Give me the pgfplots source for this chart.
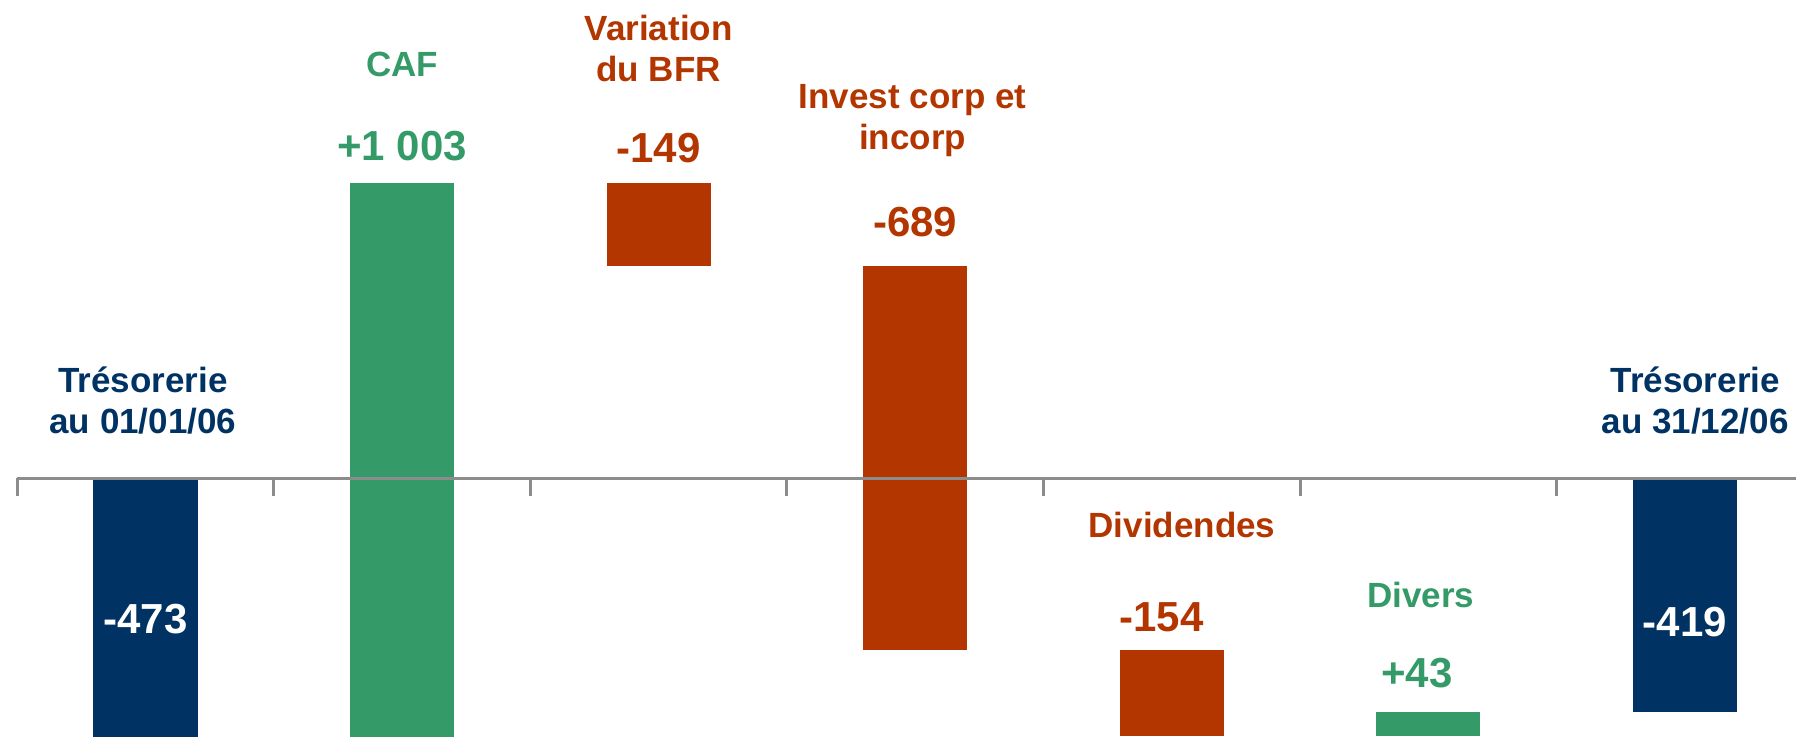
\documentclass[border=0pt]{standalone}
\usepackage{pgfplots}
\pgfplotsset{compat=1.18}
\usepackage{fontspec}
\setmainfont{Liberation Sans}
\definecolor{navy}{RGB}{0,51,99}
\definecolor{cafgreen}{RGB}{52,155,104}
\definecolor{rust}{RGB}{179,53,0}
\definecolor{axgray}{RGB}{140,140,140}
\newcommand{\numfont}{\bfseries\fontsize{10.5}{12}\selectfont}
\newcommand{\catfont}{\bfseries\fontsize{8.75}{10.4}\selectfont}
\begin{document}
\begin{tikzpicture}
\begin{axis}[
  scale only axis, width=444.8pt, height=184.05pt,
  xmin=-0.5, xmax=6.433, ymin=-462, ymax=858,
  axis x line=middle, axis y line=none,
  x axis line style={axgray, line width=0.75pt, -},
  xtick={-0.5,0.5,1.5,2.5,3.5,4.5,5.5}, xticklabels={}, ytick=\empty,
  tick align=outside, major tick length=4.5pt,
  tick style={axgray, line width=0.75pt},
  axis on top, clip mode=individual,
]
% waterfall bars (x, low, high)
\addplot[fill=navy, draw=none] coordinates {(-0.203,0) (0.203,0) (0.203,-473) (-0.203,-473)} -- cycle;
\addplot[fill=cafgreen, draw=none] coordinates {(0.797,-473) (1.203,-473) (1.203,530) (0.797,530)} -- cycle;
\addplot[fill=rust, draw=none] coordinates {(1.797,381) (2.203,381) (2.203,530) (1.797,530)} -- cycle;
\addplot[fill=rust, draw=none] coordinates {(2.797,-308) (3.203,-308) (3.203,381) (2.797,381)} -- cycle;
\addplot[fill=rust, draw=none] coordinates {(3.797,-462) (4.203,-462) (4.203,-308) (3.797,-308)} -- cycle;
\addplot[fill=cafgreen, draw=none] coordinates {(4.797,-462) (5.203,-462) (5.203,-419) (4.797,-419)} -- cycle;
\addplot[fill=navy, draw=none] coordinates {(5.797,0) (6.203,0) (6.203,-419) (5.797,-419)} -- cycle;

% labels
\node[inner sep=0pt, text=navy, font=\catfont, align=center] at (axis cs:-0.01,140) {Trésorerie\\au 01/01/06};
\node[inner sep=0pt, text=white, font=\numfont] at (axis cs:0,-253) {-473};
\node[inner sep=0pt, text=cafgreen, font=\catfont] at (axis cs:1,742) {CAF};
\node[inner sep=0pt, text=cafgreen, font=\numfont] at (axis cs:1,596) {+1 003};
\node[inner sep=0pt, text=rust, font=\catfont, align=center] at (axis cs:2,771) {Variation\\du BFR};
\node[inner sep=0pt, text=rust, font=\numfont] at (axis cs:2,592) {-149};
\node[inner sep=0pt, text=rust, font=\catfont, align=center] at (axis cs:2.99,642) {Invest corp et\\incorp};
\node[inner sep=0pt, text=rust, font=\numfont] at (axis cs:3,460) {-689};
\node[inner sep=0pt, text=rust, font=\catfont] at (axis cs:4.04,-84) {Dividendes};
\node[inner sep=0pt, text=rust, font=\numfont] at (axis cs:3.96,-249) {-154};
\node[inner sep=0pt, text=cafgreen, font=\catfont] at (axis cs:4.97,-209) {Divers};
\node[inner sep=0pt, text=cafgreen, font=\numfont] at (axis cs:4.955,-349) {+43};
\node[inner sep=0pt, text=navy, font=\catfont, align=center] at (axis cs:6.04,140) {Trésorerie\\au 31/12/06};
\node[inner sep=0pt, text=white, font=\numfont] at (axis cs:6,-257) {-419};
\end{axis}
\pgfresetboundingbox
\path[use as bounding box] (current axis.south west) ++(-4.3pt,0) rectangle (current axis.north east);
\end{tikzpicture}
\end{document}
